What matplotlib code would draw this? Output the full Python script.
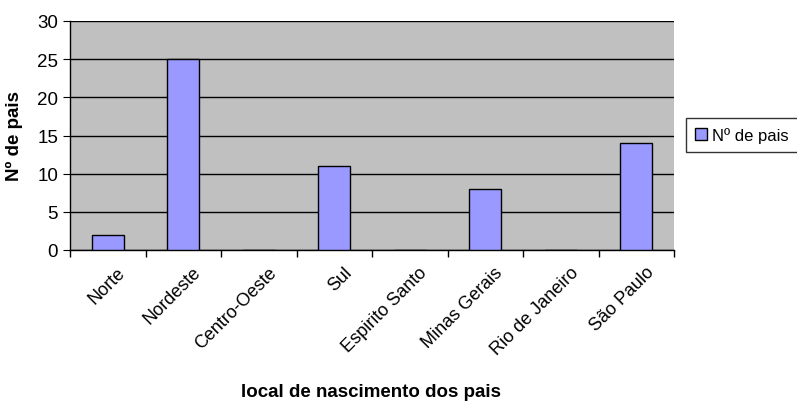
import matplotlib
matplotlib.use("Agg")
from matplotlib import pyplot as plt
from matplotlib.transforms import ScaledTranslation
import numpy as np

plt.rcParams['font.family'] = ['Liberation Sans', 'DejaVu Sans']

# data
categorias = ["Norte", "Nordeste", "Centro-Oeste", "Sul", "Espirito Santo",
              "Minas Gerais", "Rio de Janeiro", "São Paulo"]
n_pais = [2, 25, 0, 11, 0, 8, 0, 14]

fig = plt.figure(figsize=(7.97, 4.06), dpi=100)
ax = fig.add_axes([70/797, 1 - 251/406, 604/797, 229/406])
ax.set_facecolor("#C0C0C0")

x = np.arange(len(categorias))
ax.bar(x, n_pais, width=0.42, color="#9999FF", edgecolor="black", linewidth=1,
       label="Nº de pais", zorder=3)

ax.set_xlim(-0.5, len(categorias) - 0.5)
ax.set_ylim(0, 30)
ax.set_yticks(range(0, 31, 5))
ax.yaxis.grid(True, color="black", linewidth=1, zorder=1)
ax.set_axisbelow(True)

ax.set_xticks(x)
ax.set_xticklabels(categorias, rotation=45, ha="right", va="center",
                   rotation_mode="anchor", fontsize=13)
ax.tick_params(axis="x", which="major", length=0, pad=14)
shift = ScaledTranslation(15/100, 0, fig.dpi_scale_trans)
for lbl in ax.get_xticklabels():
    lbl.set_transform(lbl.get_transform() + shift)
ax.set_xticks(np.arange(-0.5, len(categorias) + 0.5, 1), minor=True)
ax.tick_params(axis="x", which="minor", length=5, width=1, direction="out")
ax.tick_params(axis="y", labelsize=13.5, length=5, direction="out")

for s in ["top", "right"]:
    ax.spines[s].set_visible(False)
ax.spines["left"].set_linewidth(1)
ax.spines["bottom"].set_linewidth(1)

ax.set_ylabel("Nº de pais", fontsize=13.5, fontweight="bold", labelpad=10)
fig.text(0.465, 1 - 393/406, "local de nascimento dos pais", fontsize=13.5,
         fontweight="bold", ha="center", va="center")

leg = fig.legend(loc="center left", bbox_to_anchor=(686/797, 1 - 136/406), fontsize=12,
                 frameon=True, fancybox=False, edgecolor="black", handlelength=0.7,
                 handleheight=0.7, handletextpad=0.3, borderpad=0.55, borderaxespad=0)
leg.get_frame().set_linewidth(1)

fig.savefig("out.png", dpi=100)
